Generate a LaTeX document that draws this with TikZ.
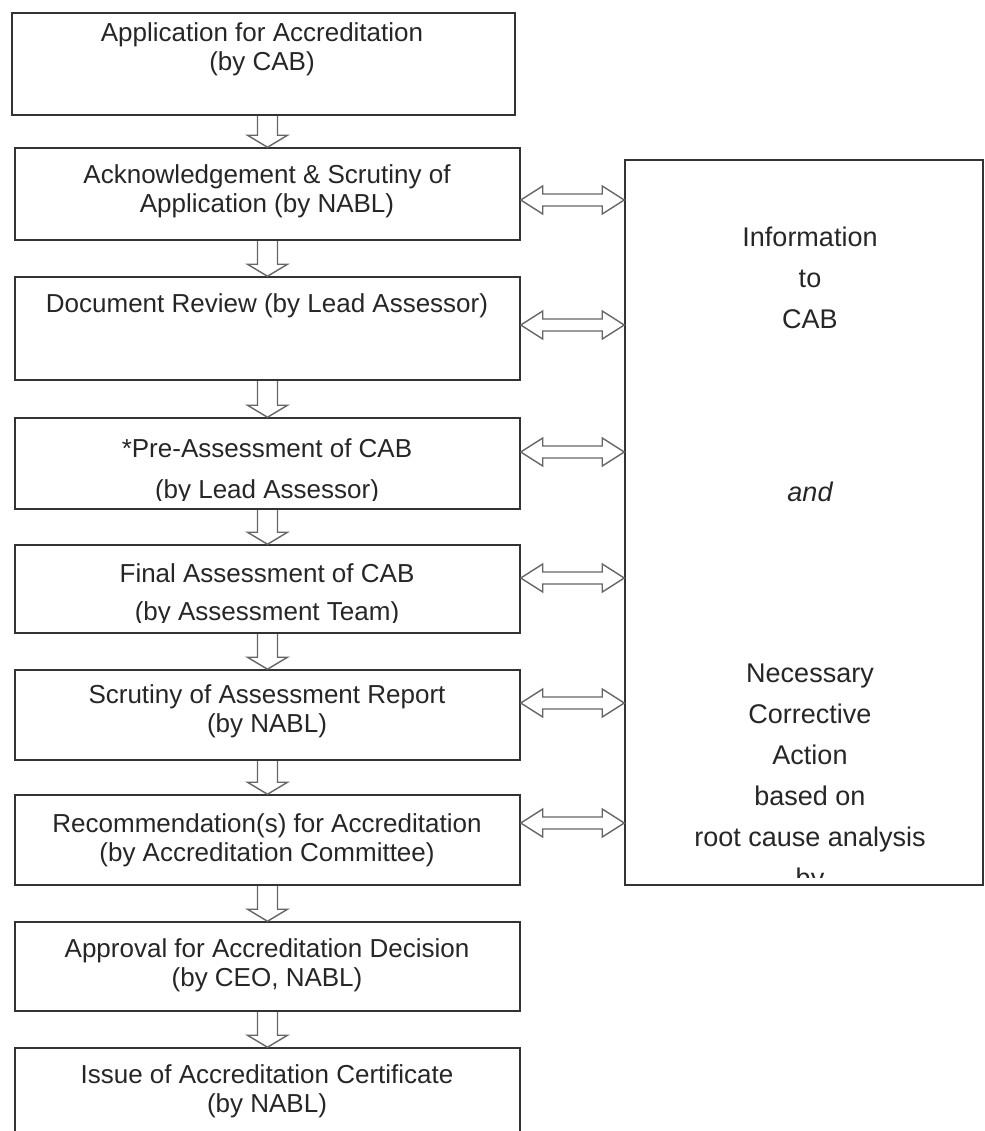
\documentclass[tikz,border=0pt]{standalone}
\usepackage{fontspec}
\setmainfont{Liberation Sans}
\usetikzlibrary{calc}

\begin{document}
\begin{tikzpicture}[x=0.5pt, y=-0.5pt,
    box/.style={draw=black!80, line width=0.75pt, minimum width=252.5pt, inner sep=0pt},
    boxtext/.style={anchor=north, align=center, inner sep=0pt, text=black!85, font=\fontsize{13}{14.5}\selectfont},
    infotext/.style={anchor=north, align=center, inner sep=0pt, text=black!85, font=\fontsize{13.5}{20.5}\selectfont},
    blockarrow/.style={draw=black!60, line width=0.7pt, line join=miter}]
  \clip (0,0) rectangle (985,1131);
  % boxes of the left column
  \node[box, minimum width=251.5pt, minimum height=51pt] (b1) at (263.5,64) {};
  \node[box, minimum height=46pt] (b2) at (267.5,194) {};
  \node[box, minimum height=51.5pt] (b3) at (267.5,328.5) {};
  \node[box, minimum height=45.5pt] (b4) at (267.5,463.5) {};
  \node[box, minimum height=44pt] (b5) at (267.5,589) {};
  \node[box, minimum height=45pt] (b6) at (267.5,715) {};
  \node[box, minimum height=45pt] (b7) at (267.5,840) {};
  \node[box, minimum height=44.5pt] (b8) at (267.5,966.5) {};
  \node[box, minimum height=50pt] (b9) at (267.5,1098) {};
  % box on the right
  \node[box, minimum width=179pt, minimum height=362.5pt] (info) at (804,522.5) {};

  % texts
  \node[boxtext] (t1) at (262,22) {Application for Accreditation\\(by CAB)};
  \node[boxtext] (t2) at (267,164) {Acknowledgement \& Scrutiny of\\Application (by NABL)};
  \node[boxtext] (t3) at (267,293) {Document Review (by Lead Assessor)};
  \begin{scope}
    \clip (b4.north west) rectangle (520,500);
    \node[boxtext] (t4) at (267,438) {*Pre-Assessment of CAB\\[6pt](by Lead Assessor)};
  \end{scope}
  \begin{scope}
    \clip (b5.north west) rectangle (520,622);
    \node[boxtext] (t5) at (267,563) {Final Assessment of CAB\\[4.5pt](by Assessment Team)};
  \end{scope}
  \node[boxtext] (t6) at (267,684) {Scrutiny of Assessment Report\\(by NABL)};
  \node[boxtext] (t7) at (267,813) {Recommendation(s) for Accreditation\\(by Accreditation Committee)};
  \node[boxtext] (t8) at (267,938) {Approval for Accreditation Decision\\(by CEO, NABL)};
  \node[boxtext] (t9) at (267,1064) {Issue of Accreditation Certificate\\(by NABL)};

  \node[infotext] (i1) at (810,226.5) {Information\\to\\CAB};
  \node[infotext, font=\fontsize{13.5}{20.5}\selectfont\itshape] (i2) at (810,482) {and};
  \begin{scope}
    \clip (info.north west) rectangle (983,877);
    \node[infotext] (i3) at (810,663.5) {Necessary\\Corrective\\Action\\based on\\root cause analysis\\by};
  \end{scope}

  % arrows down the column
  \foreach \a/\b in {b1/b2, b2/b3, b3/b4, b4/b5, b5/b6, b6/b7, b7/b8, b8/b9}
    \draw[blockarrow] ($(\a.south -| \b.north)+(-10,0)$) -- ($(\b.north)+(-10,-12)$)
      -- ($(\b.north)+(-20,-12)$) -- (\b.north) -- ($(\b.north)+(20,-12)$)
      -- ($(\b.north)+(10,-12)$) -- ($(\a.south -| \b.north)+(10,0)$);

  % two-way arrows to the right box
  \foreach \b/\dy in {b2/6, b3/-3.5, b4/-11.5, b5/-11, b6/-12, b7/-17} {
    \coordinate (l) at ($(\b.east)+(0,\dy)$);
    \coordinate (r) at (info.west |- l);
    \draw[blockarrow] (l) -- ($(l)+(22,-14)$) -- ($(l)+(22,-6)$) -- ($(r)+(-22,-6)$)
      -- ($(r)+(-22,-14)$) -- (r) -- ($(r)+(-22,14)$) -- ($(r)+(-22,6)$)
      -- ($(l)+(22,6)$) -- ($(l)+(22,14)$) -- cycle;
  }
\end{tikzpicture}
\end{document}
